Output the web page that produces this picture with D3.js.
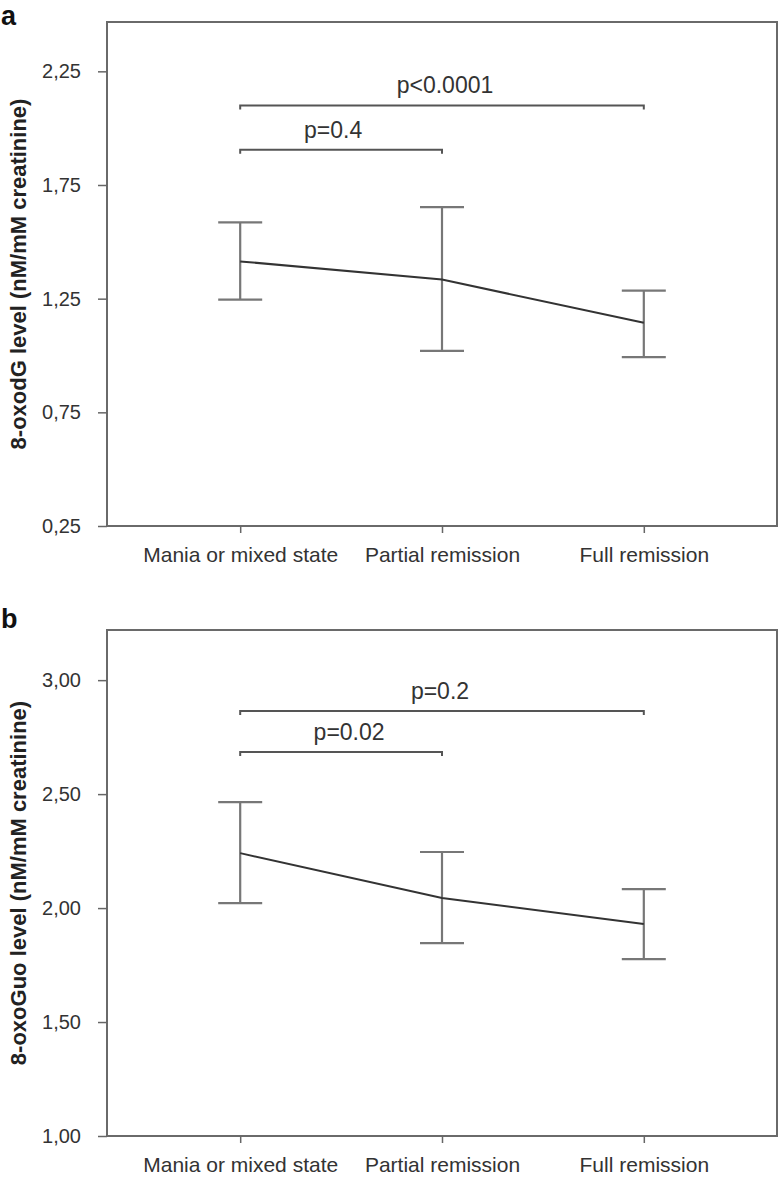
<!DOCTYPE html>
<html>
<head>
<meta charset="utf-8">
<script src="https://cdn.jsdelivr.net/npm/d3@7"></script>
<style>
  body { margin: 0; background: #fff; }
  svg { display: block; font-family: "Liberation Sans", Arial, sans-serif; }
</style>
</head>
<body>
<svg id="chart" width="781" height="1178"></svg>
<script>
// ---- data ----
const categories = ["Mania or mixed state", "Partial remission", "Full remission"];

const oxodGMean  = [1.414, 1.334, 1.144];
const oxodGUpper = [1.586, 1.653, 1.285];
const oxodGLower = [1.246, 1.020, 0.993];
const oxodGTicks = [0.25, 0.75, 1.25, 1.75, 2.25];
const oxodGDomain = [0.25, 2.467];

const oxoGuoMean  = [2.241, 2.044, 1.930];
const oxoGuoUpper = [2.465, 2.246, 2.083];
const oxoGuoLower = [2.022, 1.846, 1.776];
const oxoGuoTicks = [1.00, 1.50, 2.00, 2.50, 3.00];
const oxoGuoDomain = [1.0, 3.22];

const bracketsA = [
  { from: 0, to: 2, value: 2.10, label: "p<0.0001", dx: 3 },
  { from: 0, to: 1, value: 1.905, label: "p=0.4", dx: -8 }
];
const bracketsB = [
  { from: 0, to: 2, value: 2.865, label: "p=0.2", dx: -2 },
  { from: 0, to: 1, value: 2.685, label: "p=0.02", dx: 8 }
];

const fmt = v => d3.format(".2f")(v).replace(".", ",");

const svg = d3.select("#chart");

function panel(opts) {
  const { top, bottom, left, right, mean, upper, lower, ticks, domain, brackets, ylabel, letter } = opts;
  const g = svg.append("g");
  const x = d3.scalePoint().domain(categories).range([left, right]).padding(0.66);
  const y = d3.scaleLinear().domain(domain).range([bottom, top]);

  // box
  g.append("rect")
    .attr("x", left).attr("y", top)
    .attr("width", right - left).attr("height", bottom - top)
    .attr("fill", "none").attr("stroke", "#6a6a6a").attr("stroke-width", 2);

  // y axis
  const yAxis = g.append("g").attr("transform", `translate(${left},0)`)
    .call(d3.axisLeft(y).tickValues(ticks).tickFormat(fmt).tickSize(9).tickPadding(17));
  yAxis.select(".domain").remove();
  yAxis.selectAll(".tick line").attr("stroke", "#666").attr("stroke-width", 1.5);
  yAxis.selectAll(".tick text").attr("font-size", 20).attr("fill", "#333")
    .attr("font-family", "'Liberation Sans', Arial, sans-serif");

  // x axis
  const xAxis = g.append("g").attr("transform", `translate(0,${bottom})`)
    .call(d3.axisBottom(x).tickSize(7).tickPadding(14));
  xAxis.select(".domain").remove();
  xAxis.selectAll(".tick line").attr("stroke", "#666").attr("stroke-width", 1.5);
  xAxis.selectAll(".tick text").attr("font-size", 21).attr("fill", "#333")
    .attr("font-family", "'Liberation Sans', Arial, sans-serif");

  // error bars
  const capW = 22;
  categories.forEach((c, i) => {
    const cx = x(c);
    g.append("line").attr("x1", cx).attr("x2", cx)
      .attr("y1", y(upper[i])).attr("y2", y(lower[i]))
      .attr("stroke", "#777").attr("stroke-width", 2.2);
    [upper[i], lower[i]].forEach(v => {
      g.append("line").attr("x1", cx - capW).attr("x2", cx + capW)
        .attr("y1", y(v)).attr("y2", y(v))
        .attr("stroke", "#777").attr("stroke-width", 2.2);
    });
  });

  // mean line
  const line = d3.line().x((d, i) => x(categories[i])).y(d => y(d));
  g.append("path").datum(mean).attr("d", line)
    .attr("fill", "none").attr("stroke", "#333").attr("stroke-width", 2);

  // brackets
  brackets.forEach(b => {
    const x1 = x(categories[b.from]), x2 = x(categories[b.to]), yy = y(b.value);
    g.append("path")
      .attr("d", `M${x1},${yy + 4}L${x1},${yy}L${x2},${yy}L${x2},${yy + 4}`)
      .attr("fill", "none").attr("stroke", "#555").attr("stroke-width", 2);
    g.append("text").attr("x", (x1 + x2) / 2 + b.dx).attr("y", yy - 12)
      .attr("text-anchor", "middle").attr("font-size", 23).attr("fill", "#333")
      .text(b.label);
  });

  // y label
  g.append("text")
    .attr("transform", `translate(26,${(top + bottom) / 2}) rotate(-90)`)
    .attr("text-anchor", "middle").attr("font-size", 22).attr("font-weight", "bold")
    .attr("fill", "#222").text(ylabel);

  // panel letter
  g.append("text").attr("x", 1).attr("y", letter.y)
    .attr("font-size", 27).attr("font-weight", "bold").attr("fill", "#111")
    .text(letter.t);
}

panel({
  top: 22, bottom: 526, left: 107, right: 777,
  mean: oxodGMean, upper: oxodGUpper, lower: oxodGLower,
  ticks: oxodGTicks, domain: oxodGDomain, brackets: bracketsA,
  ylabel: "8-oxodG level (nM/mM creatinine)", letter: { t: "a", y: 25 }
});

panel({
  top: 630, bottom: 1136, left: 107, right: 777,
  mean: oxoGuoMean, upper: oxoGuoUpper, lower: oxoGuoLower,
  ticks: oxoGuoTicks, domain: oxoGuoDomain, brackets: bracketsB,
  ylabel: "8-oxoGuo level (nM/mM creatinine)", letter: { t: "b", y: 628 }
});
</script>
</body>
</html>
